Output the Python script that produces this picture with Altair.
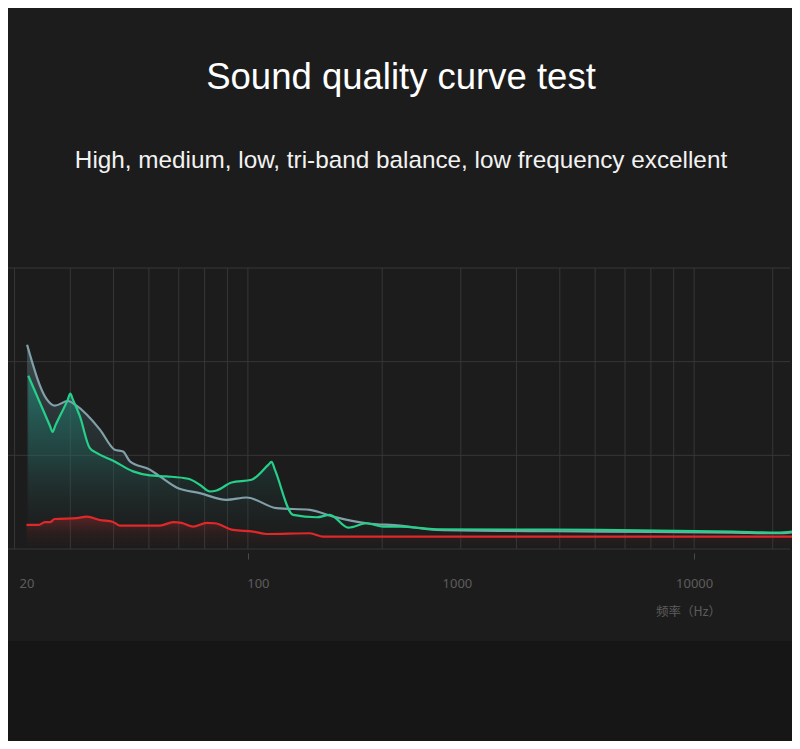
import altair as alt
import pandas as pd

# ---- data ----
gray_freq = [32.0, 35.4, 36.9, 39.5, 41.3, 46.6, 50.3, 52.5, 54.4, 60.3, 63.5, 69.2, 78.0, 89.6, 99.3,
             116, 137.7, 155.3, 184.6, 219.2, 264.9, 615.6, 1223, 1532, 1729]
gray_val = [21.8, 16.0, 15.3, 15.8, 15.3, 12.75, 10.6, 10.4, 9.36, 8.47, 7.75, 6.57, 5.97, 5.25, 5.5,
            4.36, 4.18, 3.46, 2.75, 2.5, 2.04, 1.86, 1.75, 1.68, 1.86]

green_freq = [32.2, 36.0, 36.5, 37.0, 39.5, 40.0, 40.5, 42.0, 44.2, 45.8, 49.9, 55.3, 60.3, 65.7, 73.5,
              78.0, 82.2, 85.1, 91.9, 101.9, 110.9, 113.0, 115.0, 126.3, 142.6, 152.6, 167.9, 184.6,
              201.1, 219.2, 264.9, 615.6, 1223, 1532, 1729]
green_val = [18.5, 13.16, 12.5, 13.14, 15.98, 16.6, 16.0, 14.2, 10.8, 10.26, 9.43, 8.29, 7.86, 7.75, 7.5,
             6.86, 6.14, 6.25, 7.1, 7.4, 8.95, 9.3, 8.44, 3.64, 3.39, 3.64, 2.28, 2.75,
             2.39, 2.39, 2.11, 2.04, 1.86, 1.75, 1.96]

red_freq = [31.9, 33.9, 35.1, 36.0, 36.9, 41.3, 43.6, 46.6, 49.9, 51.6, 63.5, 68.0, 71.0, 75.4, 80.8,
            84.3, 92.7, 102.8, 110.1, 137.7, 147.5, 219.2, 1729]
red_val = [2.57, 2.57, 2.86, 2.86, 3.2, 3.29, 3.46, 3.1, 2.89, 2.5, 2.5, 2.86, 2.79, 2.39, 2.79,
           2.75, 2.04, 1.86, 1.6, 1.68, 1.32, 1.32, 1.32]

grid_freq = [30, 40, 50, 60, 70, 80, 90, 100, 200, 300, 400, 500, 600, 700, 800, 900, 1000, 1500]
grid_level = [0, 10, 20, 30]

label_pos = [31.9, 100, 294, 1000]
label_text = ["20", "100", "1000", "10000"]
tick_pos = [100, 1000]

# ---- helpers ----
gray_df = pd.DataFrame({"freq": gray_freq, "val": gray_val})
green_df = pd.DataFrame({"freq": green_freq, "val": green_val})
red_df = pd.DataFrame({"freq": red_freq, "val": red_val})
vgrid_df = pd.DataFrame({"freq": grid_freq})
hgrid_df = pd.DataFrame({"level": grid_level})

label_expr = "''"
for p, t in reversed(list(zip(label_pos, label_text))):
    label_expr = f"datum.value == {p} ? '{t}' : ({label_expr})"
tick_test = " || ".join(f"datum.value == {p}" for p in tick_pos)

xscale = alt.Scale(type="log", domain=[29, 1640], nice=False)
yscale = alt.Scale(domain=[0, 30], nice=False)

xaxis = alt.Axis(
    values=label_pos,
    labelExpr=label_expr,
    ticks=True,
    tickSize=6,
    tickColor="#4a4a4a",
    tickOpacity={"condition": {"test": tick_test, "value": 1}, "value": 0},
    labelOffset={"condition": {"test": "datum.value == 100", "value": 10}, "value": 0},
    domain=False,
    grid=False,
    offset=4,
    labelPadding=18,
    labelColor="#5c5c5c",
    labelFontSize=13,
    labelFont="Noto Sans",
    labelFlush=False,
    title="频率（Hz）",
    titleX=680,
    titleY=58,
    titleAlign="center",
    titleBaseline="middle",
    titleColor="#5c5c5c",
    titleFontSize=12.5,
    titleFontWeight="normal",
    titleFont="Noto Sans CJK SC",
)

X = alt.X("freq:Q", scale=xscale, axis=xaxis)
Y = alt.Y("val:Q", scale=yscale, axis=None)


def grad(stops):
    return alt.Gradient(
        gradient="linear",
        stops=[alt.GradientStop(color=c, offset=o) for o, c in stops],
        x1=1, x2=1, y1=0, y2=1,
    )


bottom_panel = alt.Chart(pd.DataFrame({"a": [0]})).mark_rect(color="#161616").encode(
    x=alt.value(-10), x2=alt.value(800), y=alt.value(373), y2=alt.value(480)
)

vgrid = alt.Chart(vgrid_df).mark_rule(color="#373737", strokeWidth=1).encode(x=X)
hgrid = alt.Chart(hgrid_df).mark_rule(color="#373737", strokeWidth=1).encode(
    y=alt.Y("level:Q", scale=yscale, axis=None)
)

gray_area = alt.Chart(gray_df).mark_area(
    interpolate="monotone",
    color=grad([(0, "rgba(110,150,160,0.40)"), (0.6, "rgba(70,110,115,0.15)"), (1, "rgba(40,40,40,0)")]),
).encode(x=X, y=Y)

green_area = alt.Chart(green_df).mark_area(
    interpolate="monotone",
    color=grad([(0, "rgba(30,150,130,0.55)"), (0.45, "rgba(30,110,100,0.35)"), (1, "rgba(30,30,30,0)")]),
).encode(x=X, y=Y)

red_area = alt.Chart(red_df).mark_area(
    interpolate="monotone",
    color=grad([(0, "rgba(220,40,40,0.30)"), (0.5, "rgba(220,40,40,0.07)"), (1, "rgba(220,40,40,0)")]),
).encode(x=X, y=Y)

gray_line = alt.Chart(gray_df).mark_line(
    color="#82a0aa", strokeWidth=2.2, interpolate="monotone"
).encode(x=X, y=Y)
green_line = alt.Chart(green_df).mark_line(
    color="#26cf8a", strokeWidth=2.2, interpolate="monotone"
).encode(x=X, y=Y)
red_line = alt.Chart(red_df).mark_line(
    color="#e0282a", strokeWidth=2.2, interpolate="monotone"
).encode(x=X, y=Y)

chart = alt.layer(
    bottom_panel, vgrid, hgrid, gray_area, green_area, red_area, gray_line, green_line, red_line
).properties(
    width=782,
    height=281,
    autosize=alt.AutoSizeParams(type="none"),
    padding={"left": 0, "top": 260, "right": 2, "bottom": 192},
    title=alt.Title(
        "Sound quality curve test",
        subtitle="High, medium, low, tri-band balance, low frequency excellent",
        fontSize=36.5,
        subtitleFontSize=24.3,
        font="Liberation Sans",
        subtitleFont="Liberation Sans",
        fontWeight="normal",
        subtitleFontWeight="normal",
        color="#ffffff",
        subtitleColor="#f2f2f2",
        anchor="middle",
        offset=94,
        subtitlePadding=53,
        dx=2,
    ),
).configure(background="#1c1c1c").configure_view(stroke=None)

chart.save("out.html", embed_options={"renderer": "svg", "actions": False})
